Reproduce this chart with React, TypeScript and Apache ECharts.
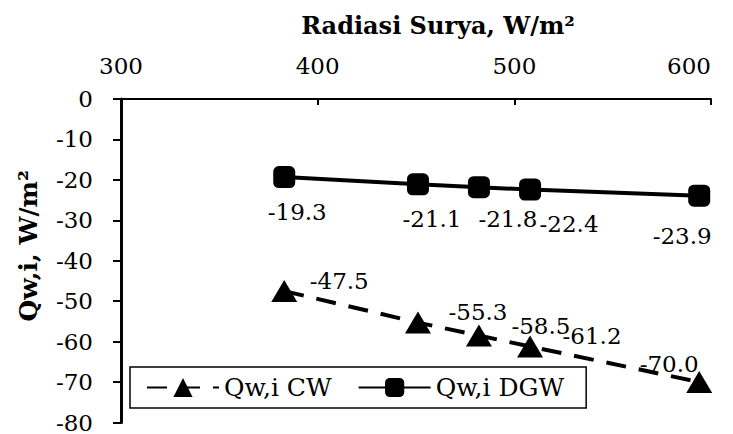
import React, { useEffect, useRef } from "react";
import * as echarts from "echarts";

const xValues = [383, 451, 482, 508, 594];
const cwValues = [-47.5, -55.3, -58.5, -61.2, -70.0];
const dgwValues = [-19.3, -21.1, -21.8, -22.4, -23.9];
const seriesNames = ["Qw,i CW", "Qw,i DGW"];
const xMin = 300, xMax = 600, xStep = 100;
const yMin = -80, yMax = 0, yStep = 10;

const cwLabelOffsets = [[55, -10], [60, -11], [62, -10], [62, -10], [-30, -18]];
const dgwLabelOffsets = [[13, 35], [14, 35], [29, 32], [39, 34], [-17, 40]];

const FONT = "DejaVu Serif";

function buildData(ys: number[], offsets: number[][]) {
  return ys.map((y, i) => ({
    value: [xValues[i], y],
    label: { offset: offsets[i] },
  }));
}

export default function App() {
  const ref = useRef<HTMLDivElement>(null);
  useEffect(() => {
    if (!ref.current) return;
    const chart = echarts.init(ref.current, null, { renderer: "svg" });
    const labelCommon = {
      show: true,
      position: "inside",
      color: "#000",
      fontFamily: FONT,
      fontSize: 23,
      formatter: (p: any) => p.value[1].toFixed(1),
    };
    chart.setOption({
      animation: false,
      backgroundColor: "#fff",
      textStyle: { fontFamily: FONT, color: "#000" },
      grid: { left: 107, right: 22, top: 87, bottom: 6 },
      xAxis: {
        type: "value",
        position: "top",
        min: xMin,
        max: xMax,
        interval: xStep,
        name: "Radiasi Surya, W/m²",
        nameLocation: "middle",
        nameGap: 62,
        nameTextStyle: { fontFamily: FONT, fontSize: 24, fontWeight: "bold", color: "#000", padding: [0, 0, 0, 44] },
        axisLine: { show: true, onZero: false, lineStyle: { color: "#000", width: 2 } },
        axisTick: { show: true, inside: true, length: 6, lineStyle: { color: "#000", width: 2 } },
        axisLabel: { color: "#000", fontFamily: FONT, fontSize: 23, margin: 22, alignMaxLabel: "right" },
        splitLine: { show: false },
      },
      yAxis: {
        type: "value",
        min: yMin,
        max: yMax,
        interval: yStep,
        name: "Qw,i, W/m²",
        nameLocation: "middle",
        nameGap: 80,
        nameRotate: 90,
        nameTextStyle: { fontFamily: FONT, fontSize: 25, fontWeight: "bold", color: "#000", padding: [0, 0, 0, 30] },
        axisLine: { show: true, onZero: false, lineStyle: { color: "#000", width: 3 } },
        axisTick: { show: true, inside: false, length: 8, lineStyle: { color: "#000", width: 2 } },
        axisLabel: { color: "#000", fontFamily: FONT, fontSize: 23, margin: 28 },
        splitLine: { show: false },
      },
      legend: {
        left: 122,
        top: 359,
        orient: "horizontal",
        backgroundColor: "#fff",
        borderColor: "#000",
        borderWidth: 1.5,
        borderRadius: 0,
        padding: [8, 22, 8, 16],
        itemGap: 26,
        itemWidth: 72,
        itemHeight: 24,
        textStyle: { fontFamily: FONT, fontSize: 25, color: "#000" },
        data: seriesNames,
      },
      series: [
        {
          name: seriesNames[0],
          type: "line",
          data: buildData(cwValues, cwLabelOffsets),
          symbol: "triangle",
          symbolSize: [26, 22],
          itemStyle: { color: "#000" },
          lineStyle: { color: "#000", width: 4, type: [20, 13] },
          label: labelCommon,
          z: 3,
        },
        {
          name: seriesNames[1],
          type: "line",
          data: buildData(dgwValues, dgwLabelOffsets),
          symbol: "roundRect",
          symbolSize: 22,
          itemStyle: { color: "#000" },
          lineStyle: { color: "#000", width: 4 },
          label: labelCommon,
          z: 3,
        },
      ],
    });
    return () => chart.dispose();
  }, []);
  return <div ref={ref} style={{ width: 725, height: 426 }} />;
}
